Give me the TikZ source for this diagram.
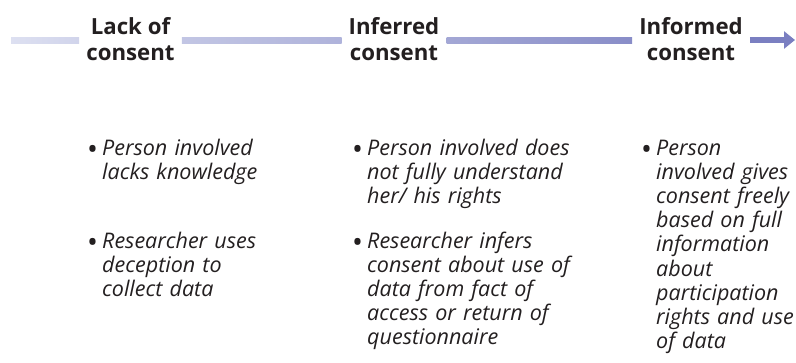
\documentclass[tikz,border=0pt]{standalone}
\usepackage{fontspec}
\setmainfont{Open Sans}
\usetikzlibrary{positioning,arrows.meta,calc}
\definecolor{barlo}{HTML}{DDE0F1}
\definecolor{barhi}{HTML}{767BBF}
\definecolor{txt}{HTML}{231F20}
\tikzstyle{hbox}=[rectangle, inner xsep=7bp, inner ysep=0pt, align=center, text=txt,
                  font=\fontsize{22.3}{26}\selectfont\bfseries]
\tikzstyle{ibox}=[rectangle, inner sep=0pt, anchor=base west, text width=250bp, align=left,
                  text=txt, font=\fontsize{21.6}{24.3}\selectfont\itshape]
\tikzstyle{arrowline}=[line width=6bp, draw=barhi!96!barlo, -{Triangle[length=11bp,width=17bp]}]
\newcommand{\bul}[1]{\hangindent=15bp\hangafter=1\noindent
  \makebox[15bp][l]{\raisebox{-4.5bp}{\scalebox{1.35}{\upshape\textbullet}}}#1\par}

\begin{document}
\begin{tikzpicture}[x=1bp, y=1bp]
\useasboundingbox (0,0) rectangle (796,362);

\coordinate (bar0) at (11,322);
\coordinate (bar1) at (795,322);
\node (lack) [hbox] at (130.5,323) {Lack of\\consent};
\node (inferred) [hbox] at (394,323) {Inferred\\consent};
\node (informed) [hbox] at (691,323) {Informed\\consent};

% bar between the headings
\shade[left color=barlo, right color=barhi!12!barlo]
  ($(bar0)+(0,-3)$) rectangle ($(lack.west|-bar0)+(0,3)$);
\shade[left color=barhi!26!barlo, right color=barhi!45!barlo]
  ($(lack.east|-bar0)+(0,-3)$) rectangle ($(inferred.west|-bar0)+(0,3)$);
\shade[left color=barhi!56!barlo, right color=barhi!82!barlo]
  ($(inferred.east|-bar0)+(0,-3)$) rectangle ($(informed.west|-bar0)+(0,3)$);
\draw[arrowline] (informed.east|-bar0) -- (bar1);

% points under each heading
\node (lackA) [ibox] at (87,207) {\bul{Person involved\newline lacks knowledge}};
\node (lackB) [ibox] at (87,114) {\bul{Researcher uses\newline deception to\newline collect data}};

\node (inferredA) [ibox] at (352,207) {\bul{Person involved does\newline not fully understand\newline her/ his rights}};
\node (inferredB) [ibox] at (352,114) {\bul{Researcher infers\newline consent about use of\newline data from fact of\newline access or return of\newline questionnaire}};

\node (informedA) [ibox] at (641,207) {\bul{Person\newline involved gives\newline consent freely\newline based on full\newline information\newline about\newline participation\newline rights and use\newline of data}};

\end{tikzpicture}
\end{document}
